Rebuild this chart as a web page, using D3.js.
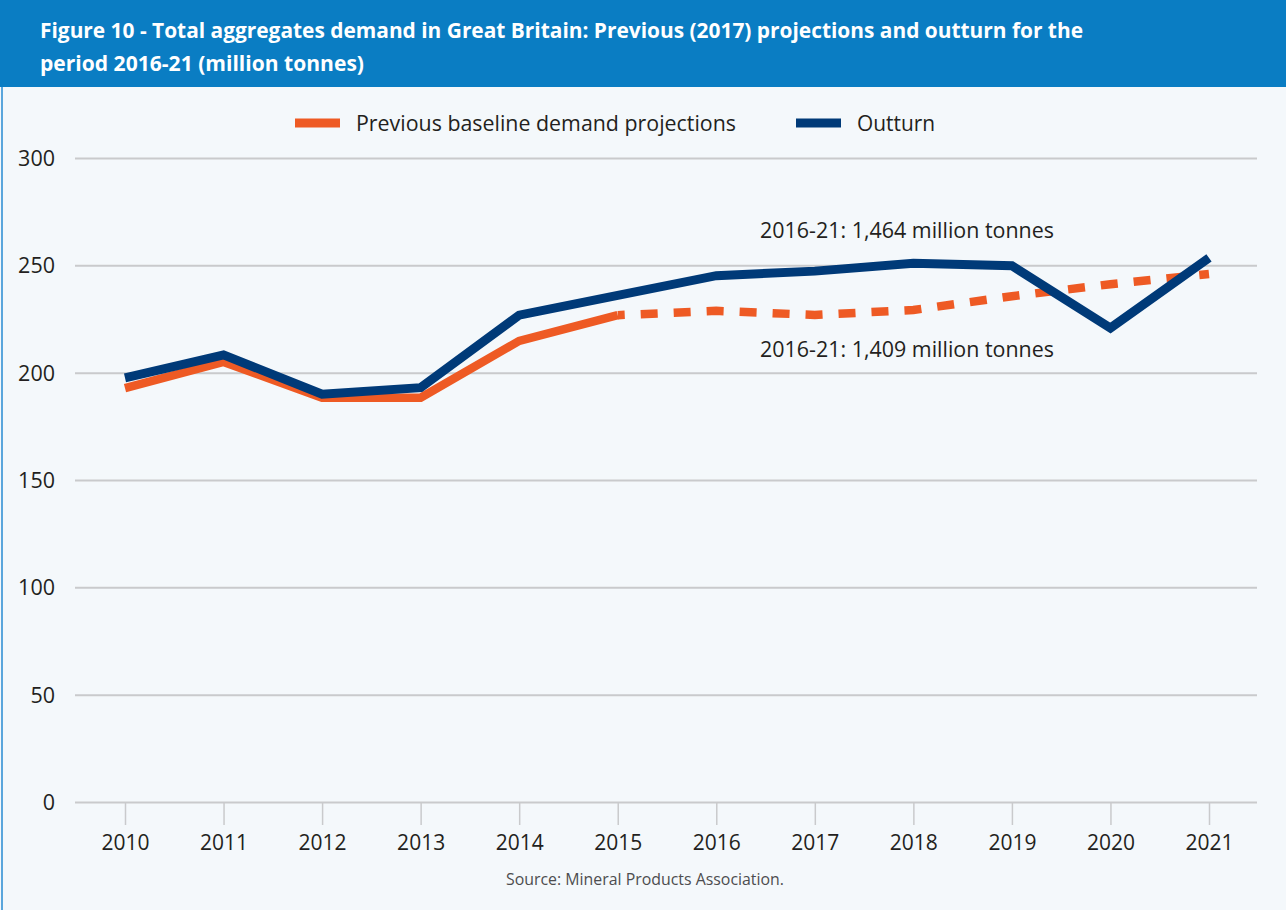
<!DOCTYPE html>
<html><head><meta charset="utf-8">
<script src="https://cdn.jsdelivr.net/npm/d3@7"></script>
<style>
html,body{margin:0;padding:0;background:#f4f8fb;}
svg{display:block;}
text{font-family:"Open Sans",sans-serif;}
</style></head>
<body>
<script>
const years = [2010,2011,2012,2013,2014,2015,2016,2017,2018,2019,2020,2021];
const outturn = [197.6,208.3,190,193,226.8,236,245.2,247.3,251,249.8,220.8,253.5];
const projections = [192.8,205,188.3,188.3,214.8,226.8,228.8,226.9,229.2,235.6,241.2,246];
const yTicks = [0,50,100,150,200,250,300];
const titleLines = ["Figure 10 - Total aggregates demand in Great Britain: Previous (2017) projections and outturn for the","period 2016-21 (million tonnes)"];
const seriesNames = ["Previous baseline demand projections","Outturn"];
const annotations = ["2016-21: 1,464 million tonnes","2016-21: 1,409 million tonnes"];
const sourceText = "Source: Mineral Products Association.";

const W=1286,H=910;
const orange="#ee5a24", navy="#003a78", grid="#c9cacc", txt="#231f20";
const svg=d3.select("body").append("svg").attr("width",W).attr("height",H);
svg.append("rect").attr("width",W).attr("height",H).attr("fill","#f4f8fb");
svg.append("rect").attr("x",0).attr("y",0).attr("width",W).attr("height",87).attr("fill","#0a7dc3");
svg.append("rect").attr("x",1).attr("y",87).attr("width",2).attr("height",H-87).attr("fill","#5aa6dc");

svg.append("text").attr("x",40).attr("y",38).attr("fill","#fff").attr("font-weight",700).attr("font-size",21)
  .attr("textLength",1043).attr("lengthAdjust","spacingAndGlyphs").text(titleLines[0]);
svg.append("text").attr("x",40).attr("y",71).attr("fill","#fff").attr("font-weight",700).attr("font-size",21)
  .attr("textLength",324).attr("lengthAdjust","spacingAndGlyphs").text(titleLines[1]);

const x=d3.scaleLinear().domain([2010,2021]).range([125,1209]);
const y=d3.scaleLinear().domain([0,300]).range([802,158]);

// gridlines
const yAxis=d3.axisLeft(y).tickValues(yTicks).tickSize(-(1257-75)).tickPadding(20);
const gy=svg.append("g").attr("transform","translate(75,0)").call(yAxis);
gy.select(".domain").remove();
gy.selectAll(".tick line").attr("stroke",grid).attr("stroke-width",2);
gy.selectAll(".tick text").attr("fill",txt).attr("font-size",21.5).attr("x",-20).attr("dy","0.35em");

const xAxis=d3.axisBottom(x).tickValues(years).tickFormat(d3.format("d")).tickSize(23).tickPadding(10);
const gx=svg.append("g").attr("transform","translate(0,802)").call(xAxis);
gx.select(".domain").remove();
gx.selectAll(".tick line").attr("stroke",grid).attr("stroke-width",1.5);
gx.selectAll(".tick text").attr("fill",txt).attr("font-size",21);

const line=d3.line().x(d=>x(d[0])).y(d=>y(d[1]));
const projPts=years.map((yr,i)=>[yr,projections[i]]);
const outPts=years.map((yr,i)=>[yr,outturn[i]]);
svg.append("path").attr("d",line(projPts.slice(0,6))).attr("fill","none").attr("stroke",orange).attr("stroke-width",8.5);
svg.append("path").attr("d",line(projPts.slice(5))).attr("fill","none").attr("stroke",orange).attr("stroke-width",8.5)
  .attr("stroke-dasharray","17,16").attr("stroke-dashoffset",10);
svg.append("path").attr("d",line(outPts)).attr("fill","none").attr("stroke",navy).attr("stroke-width",9).attr("stroke-linejoin","miter");

// legend
svg.append("line").attr("x1",295).attr("x2",340).attr("y1",123).attr("y2",123).attr("stroke",orange).attr("stroke-width",9);
svg.append("text").attr("x",356).attr("y",131).attr("fill",txt).attr("font-size",21).attr("textLength",380).attr("lengthAdjust","spacingAndGlyphs").text(seriesNames[0]);
svg.append("line").attr("x1",796).attr("x2",841).attr("y1",123).attr("y2",123).attr("stroke",navy).attr("stroke-width",9);
svg.append("text").attr("x",857).attr("y",131).attr("fill",txt).attr("font-size",21).attr("textLength",78).attr("lengthAdjust","spacingAndGlyphs").text(seriesNames[1]);

// annotations
svg.append("text").attr("x",760).attr("y",238).attr("fill",txt).attr("font-size",21).attr("textLength",294).attr("lengthAdjust","spacingAndGlyphs").text(annotations[0]);
svg.append("text").attr("x",760).attr("y",357).attr("fill",txt).attr("font-size",21).attr("textLength",294).attr("lengthAdjust","spacingAndGlyphs").text(annotations[1]);

svg.append("text").attr("x",506).attr("y",885).attr("fill","#4d4d4f").attr("font-size",15.5).attr("textLength",278).attr("lengthAdjust","spacingAndGlyphs").text(sourceText);
</script>
</body></html>
